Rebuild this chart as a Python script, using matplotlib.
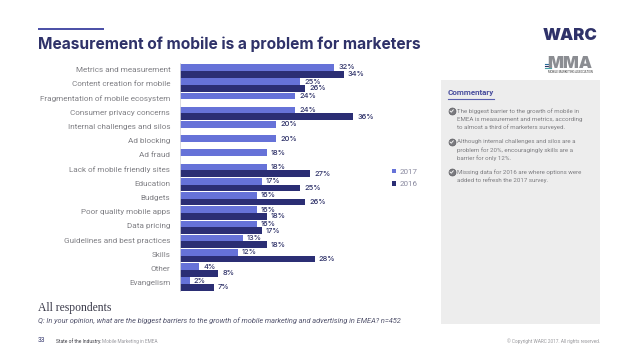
import matplotlib
matplotlib.use("Agg")
import matplotlib.pyplot as plt
import numpy as np
from matplotlib.patches import Rectangle

categories = ["Metrics and measurement", "Content creation for mobile", "Fragmentation of mobile ecosystem",
              "Consumer privacy concerns", "Internal challenges and silos", "Ad blocking", "Ad fraud",
              "Lack of mobile friendly sites", "Education", "Budgets", "Poor quality mobile apps", "Data pricing",
              "Guidelines and best practices", "Skills", "Other", "Evangelism"]
values_2017 = [32, 25, 24, 24, 20, 20, 18, 18, 17, 16, 16, 16, 13, 12, 4, 2]
values_2016 = [34, 26, None, 36, None, None, None, 27, 25, 26, 18, 17, 18, 28, 8, 7]
series_names = ["2017", "2016"]
commentary = [
    ["The biggest barrier to the growth of mobile in", "EMEA is measurement and metrics, according", "to almost a third of marketers surveyed."],
    ["Although internal challenges and silos are a", "problem for 20%, encouragingly skills are a", "barrier for only 12%."],
    ["Missing data for 2016 are where options were", "added to refresh the 2017 survey."],
]

W, H = 638, 359
C17, C16 = "#6672d8", "#2b2e74"
NAVY = "#2f3269"
plt.rcParams["font.family"] = ["Roboto", "DejaVu Sans"]
fig = plt.figure(figsize=(W / 100, H / 100), dpi=100, facecolor="white")

bg = fig.add_axes([0, 0, 1, 1], zorder=0)
bg.set_xlim(0, W); bg.set_ylim(H, 0); bg.axis("off")

x0, y0, pitch, ppu = 180.0, 63.3, 14.22, 4.81
n = len(categories)
axw = 240.0
ax = fig.add_axes([x0 / W, 1 - (y0 + n * pitch) / H, axw / W, n * pitch / H], zorder=2)
ax.patch.set_alpha(0)
ax.set_xlim(0, axw / ppu)
ax.set_ylim(n - 0.03, -0.03)
y = np.arange(n) + 0.5
bh = 0.47
v17 = np.array(values_2017, float)
v16 = np.array([np.nan if v is None else v for v in values_2016], float)
b1 = ax.barh(y - bh / 2, v17, height=bh, color=C17, label=series_names[0])
b2 = ax.barh(y + bh / 2, v16, height=bh, color=C16, label=series_names[1])
for yy, v in zip(y - bh / 2, v17):
    ax.annotate(f"{v:.0f}%", (v, yy), xytext=(3, 0), textcoords="offset points", va="center", ha="left",
                fontsize=5.4, fontweight="medium", family="Inter", color=NAVY)
for yy, v in zip(y + bh / 2, v16):
    if not np.isnan(v):
        ax.annotate(f"{v:.0f}%", (v, yy), xytext=(3, 0), textcoords="offset points", va="center", ha="left",
                    fontsize=5.4, fontweight="medium", family="Inter", color=NAVY)
ax.set_yticks(y - 0.1, categories)
ax.tick_params(axis="y", length=0, pad=7, labelsize=5.9, labelcolor="#808085")
ax.tick_params(axis="x", bottom=False, labelbottom=False)
for s in ["top", "right", "bottom"]:
    ax.spines[s].set_visible(False)
ax.spines["left"].set_color("#d5d5dc")
ax.spines["left"].set_linewidth(0.6)
leg = ax.legend(handles=[b1, b2], loc="center left", bbox_to_anchor=((387.5 - x0) / axw, 1 - (178 - y0) / (n * pitch)),
                frameon=False, fontsize=5.8, handlelength=0.5, handleheight=0.5, handletextpad=0.45,
                labelspacing=0.8, borderpad=0, labelcolor="#8a8aa0")

bg.add_patch(Rectangle((38, 28), 66, 2.2, color="#4d52a8", lw=0))
bg.text(38, 44.5, "Measurement of mobile is a problem for marketers", fontsize=11.2, fontweight="bold",
        family="Inter", color=NAVY, va="center", ha="left")

bg.text(543, 35.5, "WARC", fontsize=12, fontweight="black", family="Inter", color=NAVY, va="center", ha="left")
bg.text(547, 63.5, "MMA", fontsize=12, fontweight="black", family="Inter", color="#8b8d92", va="center", ha="left")
for yy, c in zip([64, 66, 68], ["#2a6f9e", "#2f3269", "#49a3a8"]):
    bg.plot([545, 551], [yy, yy], color=c, lw=0.8)
bg.text(548, 71.7, "MOBILE MARKETING ASSOCIATION", fontsize=2.0, color="#333333", va="center", ha="left")

bg.add_patch(Rectangle((441, 80), 159, 243.5, color="#ededed", lw=0))
bg.text(448, 92, "Commentary", fontsize=5.8, fontweight="bold", color="#4a4f9e", va="center", ha="left")
bg.plot([448, 494], [99.3, 99.3], color="#5a60b0", lw=0.8)
starts = [111, 142, 172]
for para, st in zip(commentary, starts):
    bg.plot([451.5], [st], marker="o", ms=5, mfc="#7b7b80", mec="#5a5a5f", mew=0.5)
    bg.plot([450, 451.3, 453.3], [st, st + 1.2, st - 1.2], color="white", lw=0.6)
    for i, line in enumerate(para):
        bg.text(457, st + i * 8.0, line, fontsize=4.4, color="#7c7c80", va="center", ha="left")

bg.text(38, 307.5, "All respondents", fontsize=8.4, family="Liberation Serif", color="#3a3a4a", va="center", ha="left")
bg.text(38, 320.5, "Q: In your opinion, what are the biggest barriers to the growth of mobile marketing and advertising in EMEA? n=452",
        fontsize=5.3, style="italic", color="#55566f", va="center", ha="left")
bg.text(38, 341, "33", fontsize=4.8, color=NAVY, va="center", ha="left")
bg.text(56, 341, "State of the Industry:", fontsize=3.5, color="#3c3c44", va="center", ha="left")
bg.text(102.5, 341, "Mobile Marketing in EMEA", fontsize=3.45, color="#9a9aa0", va="center", ha="left")
bg.text(600, 341, "© Copyright WARC 2017. All rights reserved.", fontsize=3.4, color="#9a9a9e", va="center", ha="right")

fig.savefig("out.png", dpi=100)
